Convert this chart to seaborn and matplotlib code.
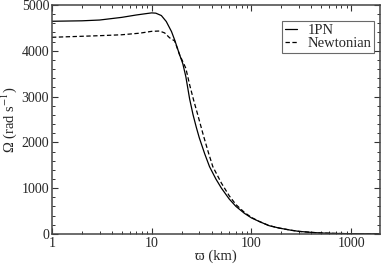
import numpy as np
import pandas as pd
import matplotlib
matplotlib.use("Agg")
import matplotlib.pyplot as plt
import seaborn as sns
from matplotlib.ticker import FixedLocator, LogLocator, MultipleLocator, NullFormatter

# values
radius_pn = [1, 2, 3, 5, 7, 9, 10, 11, 12.5, 14, 15.8, 17, 19, 20.5, 22, 24, 26, 28, 30, 34, 38,
             44, 50, 60, 70, 85, 100, 120, 150, 190, 250, 300, 400, 500, 700, 1000, 2000]
omega_pn = [4645, 4655, 4672, 4730, 4782, 4815, 4828, 4822, 4770, 4640, 4420, 4236, 3920, 3720,
            3435, 2950, 2600, 2330, 2100, 1750, 1470, 1200, 1000, 760, 600, 450, 350, 270, 180,
            127, 80, 55, 33, 20, 10, 5, 2]

radius_newt = [1, 3, 5, 7.6, 10, 12, 13.5, 15.1, 17, 19, 22, 24, 26.3, 29, 33, 37, 41, 50, 60, 70,
               85, 100, 120, 150, 190, 250, 300, 400, 500, 700, 1000, 2000]
omega_newt = [4295, 4330, 4350, 4385, 4425, 4432, 4390, 4285, 4215, 3920, 3618, 3260, 2926, 2598,
              2150, 1780, 1470, 1110, 830, 640, 470, 360, 272, 182, 128, 80, 55, 33, 20, 10, 5, 2]

sns.set_theme(style="ticks")
plt.rcParams["font.family"] = ["Liberation Serif", "DejaVu Serif"]
plt.rcParams["mathtext.fontset"] = "stix"

df_pn = pd.DataFrame({"r": radius_pn, "omega": omega_pn})
df_newt = pd.DataFrame({"r": radius_newt, "omega": omega_newt})

fig = plt.figure(figsize=(3.82, 2.64), dpi=100)
ax = fig.add_axes([0.136, 0.114, 0.859, 0.867])

sns.lineplot(data=df_pn, x="r", y="omega", ax=ax, color="black", lw=0.9, label="1PN")
sns.lineplot(data=df_newt, x="r", y="omega", ax=ax, color="black", lw=0.9,
             linestyle=(0, (3.5, 2)), label="Newtonian")

ax.set_xscale("log")
ax.set_xlim(1, 1950)
ax.set_ylim(0, 5000)

ax.xaxis.set_major_locator(FixedLocator([1, 10, 100, 1000]))
ax.set_xticklabels(["1", "10", "100", "1000"])
ax.xaxis.set_minor_locator(LogLocator(base=10, subs=np.arange(2, 10)))
ax.xaxis.set_minor_formatter(NullFormatter())
ax.yaxis.set_major_locator(MultipleLocator(1000))
ax.yaxis.set_minor_locator(MultipleLocator(200))

ax.tick_params(which="both", direction="in", top=True, right=True, labelsize=10, color="#333333")
ax.tick_params(which="major", length=4, width=0.8, pad=2)
ax.tick_params(which="minor", length=2.5, width=0.7)
for s in ax.spines.values():
    s.set_linewidth(1.1)
    s.set_color("#444444")

ax.set_xlabel("ϖ (km)", fontsize=10.5, labelpad=0)
ax.set_ylabel(r"Ω (rad s$^{-1}$)", fontsize=10.5, labelpad=2)

leg = ax.legend(loc="upper right", bbox_to_anchor=(0.982, 0.93), fontsize=10.5, frameon=True,
                fancybox=False, edgecolor="#444444", handlelength=0.85, handletextpad=0.7,
                borderpad=0.2, labelspacing=0.0, borderaxespad=0.0)
leg.get_frame().set_linewidth(0.8)

fig.savefig("out.png", dpi=100)
